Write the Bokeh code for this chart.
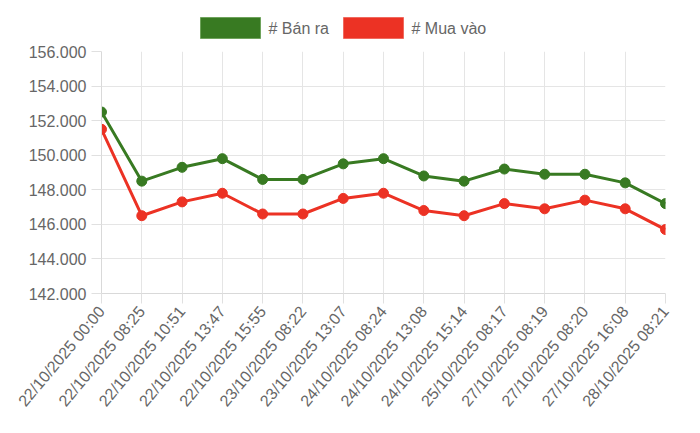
import math
from bokeh.plotting import figure
from bokeh.models import FixedTicker, ColumnDataSource, Range1d
from bokeh.layouts import column
from bokeh.core.properties import value
from bokeh.embed import file_html
from bokeh.resources import INLINE

categories = ["22/10/2025 00:00", "22/10/2025 08:25", "22/10/2025 10:51", "22/10/2025 13:47",
              "22/10/2025 15:55", "23/10/2025 08:22", "23/10/2025 13:07", "24/10/2025 08:24",
              "24/10/2025 13:08", "24/10/2025 15:14", "25/10/2025 08:17", "27/10/2025 08:19",
              "27/10/2025 08:20", "27/10/2025 16:08", "28/10/2025 08:21"]
ban_ra = [152500, 148500, 149300, 149800, 148600, 148600, 149500, 149800,
          148800, 148500, 149200, 148900, 148900, 148400, 147200]
mua_vao = [151500, 146500, 147300, 147800, 146600, 146600, 147500, 147800,
           146800, 146500, 147200, 146900, 147400, 146900, 145700]
y_ticks = [142000, 144000, 146000, 148000, 150000, 152000, 154000, 156000]
y_tick_labels = ["142.000", "144.000", "146.000", "148.000", "150.000", "152.000", "154.000", "156.000"]
series_names = ["# Bán ra", "# Mua vào"]

GREEN = "#387a22"
GREEN_EDGE = "#6fa35c"
RED = "#ec3224"
RED_EDGE = "#f06a5f"
TXT = "#666666"
FONT = "Liberation Sans"
W = 684
LEG_H = 43
BORDER_L = 101
BORDER_R = 19

# ---- legend strip (pixel-space layout; its frame is aligned with the chart's) ----
leg_left = [200, 343]
leg = figure(width=W, height=LEG_H, output_backend="svg", toolbar_location=None,
             x_range=Range1d(BORDER_L, W - BORDER_R), y_range=Range1d(LEG_H, 0),
             x_axis_location=None, y_axis_location=None,
             min_border_left=BORDER_L, min_border_right=BORDER_R,
             min_border_top=0, min_border_bottom=0)
leg.outline_line_color = None
leg.grid.visible = False
leg_src = ColumnDataSource(dict(
    left=leg_left, right=[l + 60 for l in leg_left],
    top=[17, 17], bottom=[38, 38],
    fill=[GREEN, RED], edge=[GREEN_EDGE, RED_EDGE],
    tx=[l + 68 for l in leg_left], ty=[28, 28], name=series_names))
leg.quad(left="left", right="right", top="top", bottom="bottom", source=leg_src,
         fill_color="fill", line_color="edge", line_width=1)
leg.text(x="tx", y="ty", text="name", source=leg_src, text_font=value(FONT),
         text_font_size="16px", text_color=TXT, text_baseline="middle", text_align="left")

# ---- main chart ----
xs = list(range(len(categories)))
src = ColumnDataSource(dict(x=xs, ban=ban_ra, mua=mua_vao))

p = figure(width=W, height=417 - LEG_H, output_backend="svg", toolbar_location=None,
           x_range=(0, len(categories) - 1), y_range=(142000, 156000),
           min_border_left=BORDER_L, min_border_right=BORDER_R,
           min_border_top=8, min_border_bottom=124)
p.outline_line_color = None

p.line("x", "ban", source=src, line_color=GREEN, line_width=3)
p.scatter("x", "ban", source=src, size=10, fill_color=GREEN, line_color=GREEN)
p.line("x", "mua", source=src, line_color=RED, line_width=3)
p.scatter("x", "mua", source=src, size=10, fill_color=RED, line_color=RED)

p.xaxis.ticker = FixedTicker(ticks=xs)
p.xaxis.major_label_overrides = {i: c for i, c in enumerate(categories)}
p.xaxis.major_label_orientation = 50 * math.pi / 180
p.yaxis.ticker = FixedTicker(ticks=y_ticks)
p.yaxis.major_label_overrides = {t: l for t, l in zip(y_ticks, y_tick_labels)}

for ax in (p.xaxis, p.yaxis):
    ax.axis_line_color = "#d9d9d9"
    ax.major_tick_line_color = "#e0e0e0"
    ax.major_tick_out = 10
    ax.major_tick_in = 0
    ax.minor_tick_line_color = None
    ax.major_label_text_font = FONT
    ax.major_label_text_font_size = "16px"
    ax.major_label_text_color = TXT
    ax.major_label_standoff = 5

p.xgrid.ticker = FixedTicker(ticks=xs)
p.grid.grid_line_color = "#e5e5e5"

layout = column(leg, p, spacing=0)
open("out.html", "w").write(file_html(layout, INLINE))
